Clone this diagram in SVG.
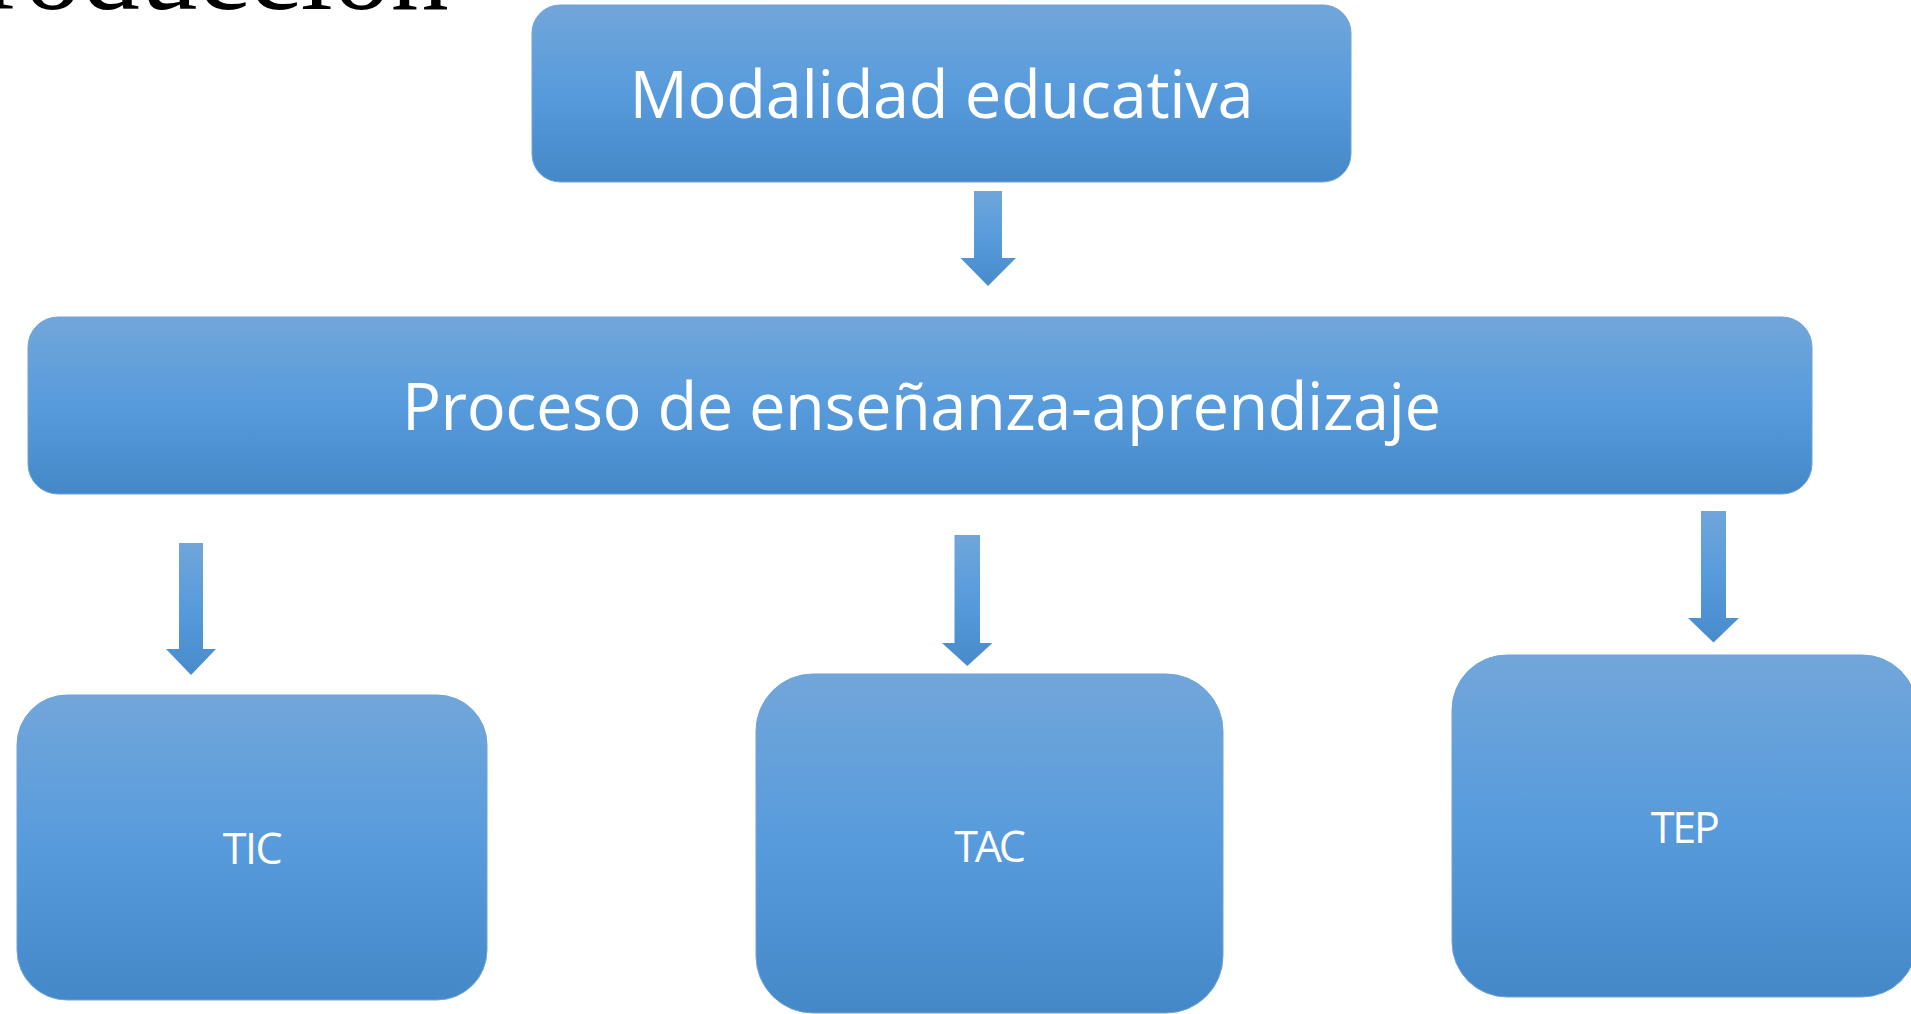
<svg xmlns="http://www.w3.org/2000/svg" width="1911" height="1014" viewBox="0 0 1911 1014">
  <defs>
    <linearGradient id="boxGrad" x1="0" y1="0" x2="0" y2="1">
      <stop offset="0" stop-color="#72a6da"/>
      <stop offset="0.5" stop-color="#579bdc"/>
      <stop offset="1" stop-color="#4588c8"/>
    </linearGradient>
    <linearGradient id="arrowGrad" x1="0" y1="0" x2="0" y2="1">
      <stop offset="0" stop-color="#70a6da"/>
      <stop offset="0.5" stop-color="#579bdc"/>
      <stop offset="1" stop-color="#478bcb"/>
    </linearGradient>
  </defs>
  <style>
    .box { fill: url(#boxGrad); stroke: #6ea3d9; stroke-width: 1; }
    .arrow { fill: url(#arrowGrad); stroke: none; }
    .big { font-family: "Open Sans", "Noto Sans", "Liberation Sans", sans-serif; font-size: 65px; fill: #ffffff; text-anchor: middle; }
    .small { font-family: "Open Sans", "Noto Sans", "Liberation Sans", sans-serif; font-size: 43px; fill: #ffffff; text-anchor: middle; }
    .title { font-family: "Liberation Serif", "Times New Roman", serif; font-size: 116px; fill: #000000; }
  </style>
  <rect width="1911" height="1014" fill="#ffffff"/>

  <text class="title" x="-15" y="9">roducción</text>

  <g id="node-modalidad">
    <rect class="box" x="532" y="5" width="819" height="177" rx="28" ry="28"/>
    <text class="big" x="941.5" y="118" textLength="624">Modalidad educativa</text>
  </g>

  <g id="node-proceso">
    <rect class="box" x="28" y="317" width="1784" height="177" rx="30" ry="30"/>
    <text class="big" x="921.5" y="430" textLength="1039">Proceso de enseñanza-aprendizaje</text>
  </g>

  <g id="node-tic">
    <rect class="box" x="17" y="695" width="470" height="305" rx="50" ry="50"/>
    <text class="small" x="252.7" y="864" textLength="60">TIC</text>
  </g>

  <g id="node-tac">
    <rect class="box" x="756" y="674" width="467" height="339" rx="57" ry="57"/>
    <text class="small" x="990" y="861.7" textLength="71.7">TAC</text>
  </g>

  <g id="node-tep">
    <rect class="box" x="1452" y="655" width="465" height="342" rx="55" ry="55"/>
    <text class="small" x="1685.3" y="842.7" textLength="69.3">TEP</text>
  </g>

  <g id="connectors">
    <polygon class="arrow" points="974,191 1002,191 1002,258 1016,258 988,286 960.5,258 974,258"/>
    <polygon class="arrow" points="179,543 203,543 203,649 216,649 191,675 166,649 179,649"/>
    <polygon class="arrow" points="954.5,535 980,535 980,643 992.5,643 967.3,666 942,643 954.5,643"/>
    <polygon class="arrow" points="1701,511 1726,511 1726,618 1739,618 1713.5,642.5 1688,618 1701,618"/>
  </g>
</svg>
